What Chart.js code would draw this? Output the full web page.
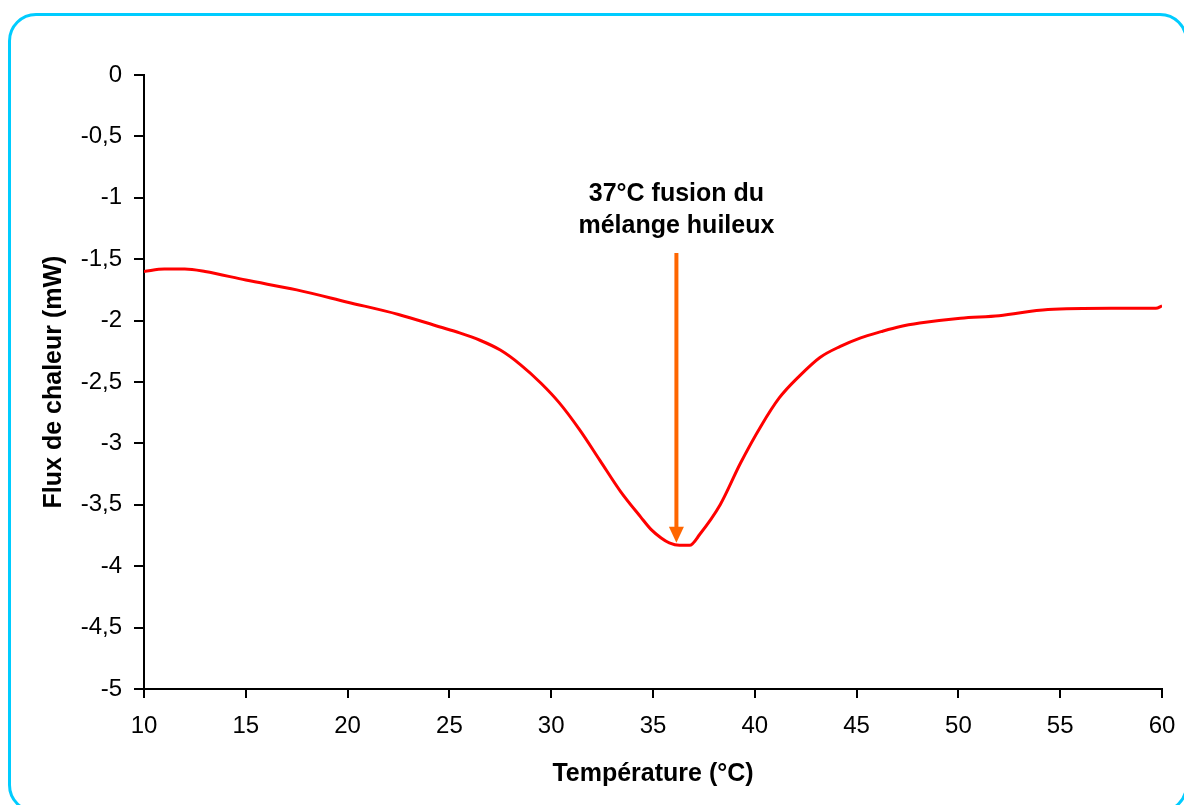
<!DOCTYPE html>
<html>
<head>
<meta charset="utf-8">
<script src="https://cdn.jsdelivr.net/npm/chart.js@4"></script>
<style>
  html, body { margin: 0; padding: 0; background: #fff; overflow: hidden; }
  #wrap { position: relative; width: 1184px; height: 805px; overflow: hidden; }
  #frame { position: absolute; left: 8px; top: 13px; width: 1180px; height: 800px;
           border: 3px solid #00CCFF; border-radius: 28px; box-sizing: border-box; }
  canvas { position: absolute; left: 0; top: 0; }
</style>
</head>
<body>
<div id="wrap">
  <div id="frame"></div>
  <canvas id="c" width="1184" height="805"></canvas>
</div>
<script>
// Temperature (°C)
const temps = [10, 11, 12, 13, 15, 17.5, 20, 22.5, 24.5, 25.5, 26.5, 27.5, 28.5, 29.5, 30.4, 31.4, 32.4, 33.4, 34.4, 34.9, 35.4, 35.8, 36.3, 36.8, 37.3, 38.3, 39.3, 40.3, 41.2, 42.2, 43.2, 44.2, 45.2, 46.2, 47.1, 48.1, 50.1, 52.0, 54.4, 57.5, 59.7, 60];
// Heat flux (mW)
const flux  = [-1.60, -1.58, -1.58, -1.60, -1.67, -1.75, -1.85, -1.95, -2.05, -2.10, -2.16, -2.24, -2.36, -2.51, -2.67, -2.89, -3.14, -3.39, -3.60, -3.70, -3.77, -3.81, -3.83, -3.83, -3.74, -3.50, -3.16, -2.86, -2.63, -2.45, -2.30, -2.21, -2.14, -2.09, -2.05, -2.02, -1.98, -1.96, -1.91, -1.90, -1.90, -1.88];
const xTicks = [10, 15, 20, 25, 30, 35, 40, 45, 50, 55, 60];
const yTicks = [0, -0.5, -1, -1.5, -2, -2.5, -3, -3.5, -4, -4.5, -5];
const annotationLines = ["37°C fusion du", "mélange huileux"];
const arrowX = 36.15, arrowTop = -1.45, arrowTip = -3.81;

const FONT = "'Liberation Sans', Arial, sans-serif";

const annotationPlugin = {
  id: 'annot',
  afterDatasetsDraw(chart) {
    const { ctx, scales: { x, y } } = chart;
    const px = x.getPixelForValue(arrowX);
    const pTop = y.getPixelForValue(arrowTop);
    const pTip = y.getPixelForValue(arrowTip);
    const headH = 16, headW = 15;
    ctx.save();
    ctx.strokeStyle = '#FF6600';
    ctx.fillStyle = '#FF6600';
    ctx.lineWidth = 4;
    ctx.beginPath();
    ctx.moveTo(px, pTop);
    ctx.lineTo(px, pTip - headH + 1);
    ctx.stroke();
    ctx.beginPath();
    ctx.moveTo(px - headW / 2, pTip - headH);
    ctx.lineTo(px + headW / 2, pTip - headH);
    ctx.lineTo(px, pTip);
    ctx.closePath();
    ctx.fill();
    ctx.fillStyle = '#000';
    ctx.font = "bold 25px " + FONT;
    ctx.textAlign = 'center';
    ctx.textBaseline = 'alphabetic';
    ctx.fillText(annotationLines[0], px, pTop - 52);
    ctx.fillText(annotationLines[1], px, pTop - 20);
    ctx.restore();
  }
};

new Chart(document.getElementById('c'), {
  type: 'line',
  data: {
    datasets: [{
      data: temps.map((t, i) => ({ x: t, y: flux[i] })),
      borderColor: '#FF0000',
      borderWidth: 3,
      pointRadius: 0,
      cubicInterpolationMode: 'monotone',
      fill: false
    }]
  },
  options: {
    responsive: false,
    animation: false,
    events: [],
    layout: { padding: { left: 0, top: 75, right: 22, bottom: 0 } },
    plugins: { legend: { display: false }, tooltip: { enabled: false } },
    scales: {
      x: {
        type: 'linear',
        min: 10, max: 60,
        afterBuildTicks: (s) => { s.ticks = xTicks.map(v => ({ value: v })); },
        afterFit: (s) => { s.height = 116; },
        ticks: {
          autoSkip: false, maxRotation: 0,
          color: '#000', font: { family: FONT, size: 24, lineHeight: 1.667 }, padding: 8,
          callback: (v) => String(v)
        },
        grid: { drawOnChartArea: false, drawTicks: true, tickLength: 9, tickColor: '#000', lineWidth: 2 },
        border: { display: true, color: '#000', width: 2 },
        title: { display: true, text: 'Température (°C)', color: '#000',
                 font: { family: FONT, size: 25, weight: 'bold' }, padding: { top: 0, bottom: 16 } }
      },
      y: {
        min: -5, max: 0,
        afterBuildTicks: (s) => { s.ticks = yTicks.map(v => ({ value: v })); },
        afterFit: (s) => { s.width = 144; },
        ticks: {
          autoSkip: false,
          color: '#000', font: { family: FONT, size: 24 }, padding: 12,
          callback: (v) => String(v).replace('.', ',')
        },
        grid: { drawOnChartArea: false, drawTicks: true, tickLength: 10, tickColor: '#000', lineWidth: 2 },
        border: { display: true, color: '#000', width: 2 },
        title: { display: true, text: 'Flux de chaleur (mW)', color: '#000',
                 font: { family: FONT, size: 25, weight: 'bold' }, padding: { top: 39, bottom: 0 } }
      }
    }
  },
  plugins: [annotationPlugin]
});
</script>
</body>
</html>
